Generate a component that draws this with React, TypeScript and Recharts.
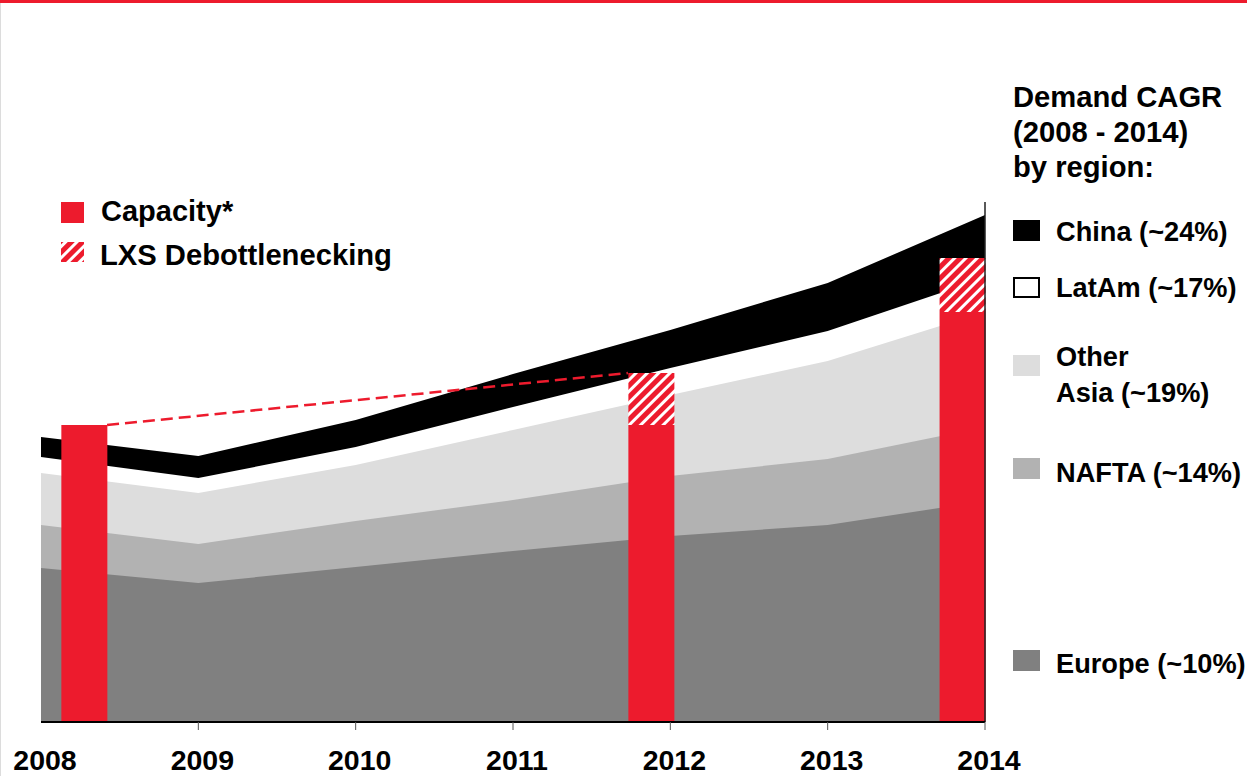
import React from "react";
import {
  ComposedChart,
  Area,
  Bar,
  Line,
  XAxis,
  YAxis,
  ReferenceLine,
} from "recharts";

// ---- data ----
const years = [2008, 2009, 2010, 2011, 2012, 2013, 2014];
const europe = [154, 139, 155, 171, 186, 197, 221];
const nafta = [43, 39, 46, 51, 60, 66, 74];
const otherAsia = [52, 51, 56, 70, 81, 98, 115];
const latAm = [16, 15, 18, 23, 27, 30, 34];
const china = [20, 22, 27, 33, 38, 48, 63];

const barPositions = [2008.273, 2011.877, 2013.855];
const capacity = [297, 297, 410];
const debottleneck = [0, 52, 54];

const dashX = [2008.42, 2011.73];
const dashV = [297, 349];

const regionNames = ["China (~24%)", "LatAm (~17%)", "Other\nAsia (~19%)", "NAFTA (~14%)", "Europe (~10%)"];
const legendTitle = ["Demand CAGR", "(2008 - 2014)", "by region:"];
const leftLegend = ["Capacity*", "LXS Debottlenecking"];

// ---- derived tables ----
const stackOrder = [europe, nafta, otherAsia, latAm, china];
const cumulative = stackOrder.map((_, k) =>
  years.map((y, i) => {
    let s = 0;
    for (let j = 0; j <= k; j++) s += stackOrder[j][i];
    return { x: y, v: s };
  })
);
const barData = barPositions.map((x, i) => ({ x, capacity: capacity[i], debottleneck: debottleneck[i] }));
const dashData = dashX.map((x, i) => ({ x, v: dashV[i] }));

const RED = "#ED1B2D";
const FONT = "'Liberation Sans', Arial, sans-serif";
const areaColors = ["#808080", "#b2b2b2", "#dddddd", "#ffffff", "#000000"]; // europe..china

const YearTick = (props: any) => {
  const { x, y, payload, index } = props;
  return (
    <g>
      {index > 0 && <line x1={x} y1={y - 8} x2={x} y2={y} stroke="#555" strokeWidth={1} />}
      <text x={x + 4} y={y + 40} textAnchor="middle" fontFamily={FONT} fontWeight="bold" fontSize={28.5} fill="#000">
        {payload.value}
      </text>
    </g>
  );
};

export default function App() {
  const legendColors = ["#000000", "#ffffff", "#dddddd", "#b2b2b2", "#808080"];
  const swatchY = [220, 277, 355, 458, 650];
  const labelY = [241, 297, 366, 482, 673];
  return (
    <div style={{ position: "absolute", left: 0, top: 0, width: 1247, height: 776, background: "#fff", overflow: "hidden" }}>
      <div style={{ position: "absolute", left: 0, top: 0, width: 1247, height: 3, background: RED }} />
      <div style={{ position: "absolute", left: 0, top: 3, width: 1, height: 773, background: "#dcdcdc" }} />
      <div style={{ position: "absolute", left: 0, top: 0 }}>
        <ComposedChart
          width={1247}
          height={776}
          data={barData}
          margin={{ top: 122, right: 262, bottom: 0, left: 41 }}
        >
          <defs>
            <pattern id="hatch" patternUnits="userSpaceOnUse" width="8" height="8" patternTransform="rotate(45)">
              <rect x="0" y="0" width="8" height="8" fill={RED} />
              <rect x="0" y="0" width="3" height="8" fill="#ffffff" />
            </pattern>
          </defs>
          <XAxis
            xAxisId="years"
            dataKey="x"
            type="number"
            domain={[2008, 2014]}
            ticks={years}
            height={54}
            axisLine={{ stroke: "#000", strokeWidth: 2 }}
            tickLine={false}
            tickSize={8}
            tickMargin={0}
            tick={<YearTick />}
            interval={0}
          />
          <XAxis xAxisId="bars" dataKey="x" type="number" domain={[2008, 2014]} orientation="top" height={0} hide />
          <YAxis hide domain={[0, 600]} type="number" />
          {[4, 3, 2, 1, 0].map((k) => (
            <Area
              key={k}
              xAxisId="years"
              data={cumulative[k]}
              dataKey="v"
              type="linear"
              stroke="none"
              fill={areaColors[k]}
              fillOpacity={1}
              isAnimationActive={false}
              dot={false}
              activeDot={false}
            />
          ))}
          <Bar xAxisId="bars" dataKey="capacity" stackId="b" fill={RED} barSize={46} isAnimationActive={false} />
          <Bar xAxisId="bars" dataKey="debottleneck" stackId="b" fill="url(#hatch)" barSize={46} isAnimationActive={false} />
          <Line
            xAxisId="years"
            data={dashData}
            dataKey="v"
            type="linear"
            stroke={RED}
            strokeWidth={2.5}
            strokeDasharray="12 6"
            dot={false}
            activeDot={false}
            isAnimationActive={false}
          />
          <ReferenceLine
            xAxisId="years"
            segment={[{ x: 2014, y: 0 }, { x: 2014, y: 520 }]}
            stroke="#222"
            strokeWidth={1.5}
          />
        </ComposedChart>
      </div>
      <svg width={1247} height={776} style={{ position: "absolute", left: 0, top: 0, pointerEvents: "none" }}>
        <defs>
          <pattern id="hatchLegend" patternUnits="userSpaceOnUse" width="8" height="8" patternTransform="rotate(45)">
            <rect x="0" y="0" width="8" height="8" fill={RED} />
            <rect x="0" y="0" width="3" height="8" fill="#ffffff" />
          </pattern>
        </defs>
        <g fontFamily={FONT} fontWeight="bold" fill="#000">
          <rect x={61} y={202} width={23} height={21} fill={RED} />
          <text x={101} y={221} fontSize={29}>{leftLegend[0]}</text>
          <rect x={61} y={242} width={23} height={20} fill="url(#hatchLegend)" />
          <text x={100} y={265} fontSize={29.2}>{leftLegend[1]}</text>

          {legendTitle.map((t, i) => (
            <text key={t} x={1013} y={107 + i * 35} fontSize={29.2}>{t}</text>
          ))}
          {regionNames.map((name, i) => {
            const lines = name.split("\n");
            const fill = legendColors[i];
            return (
              <g key={name}>
                {fill === "#ffffff" ? (
                  <rect x={1014} y={swatchY[i] + 1} width={25} height={19} fill="#fff" stroke="#000" strokeWidth={2} />
                ) : (
                  <rect x={1013} y={swatchY[i]} width={27} height={21} fill={fill} />
                )}
                {lines.map((ln, j) => (
                  <text key={ln} x={1056} y={labelY[i] + j * 36} fontSize={27.2}>{ln}</text>
                ))}
              </g>
            );
          })}
        </g>
      </svg>
    </div>
  );
}
